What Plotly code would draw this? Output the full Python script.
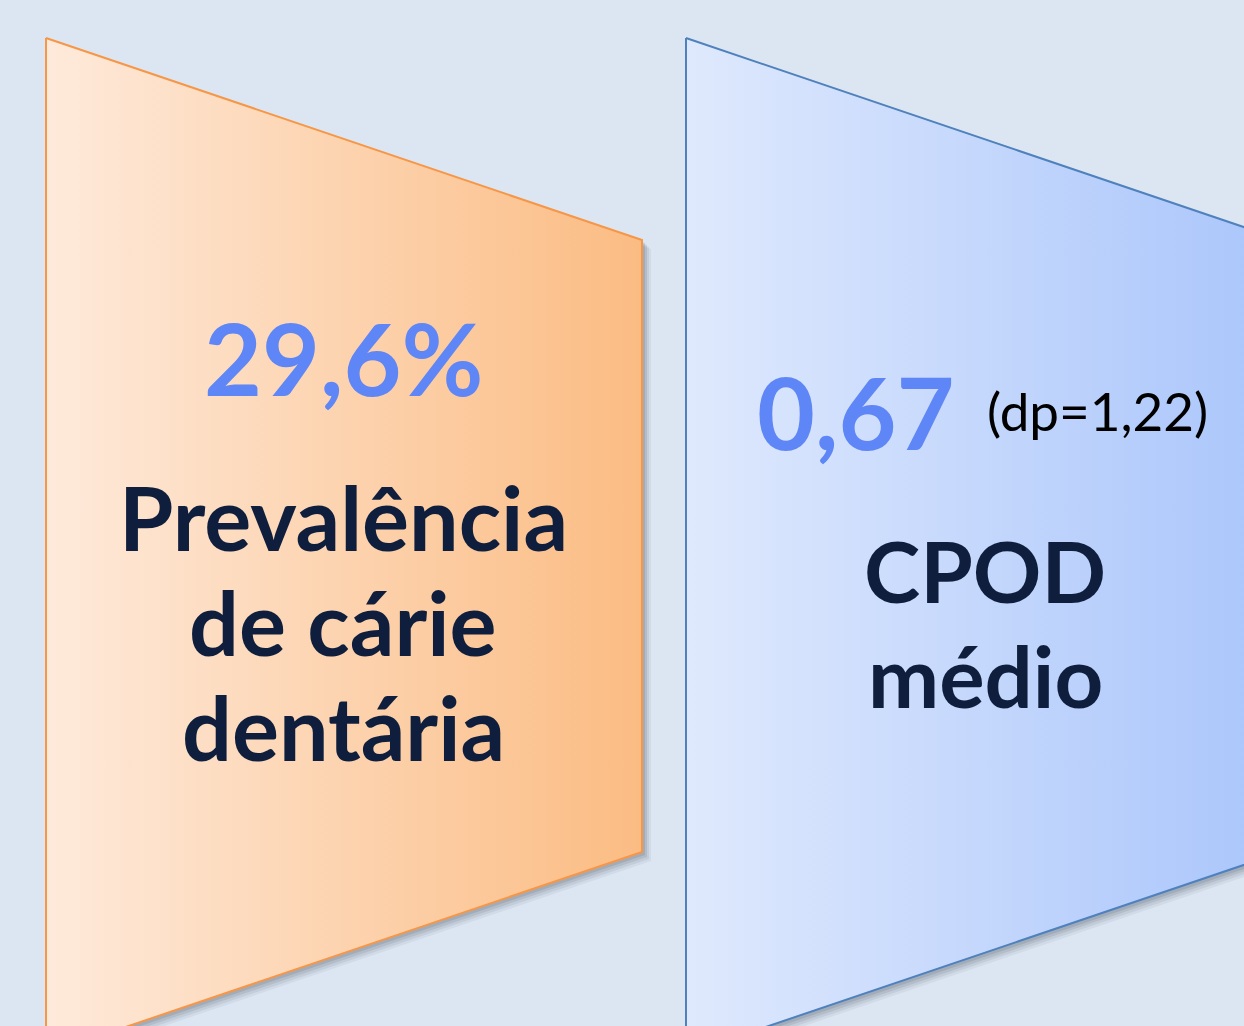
import plotly.graph_objects as go

# ---- content ----
values = ["29,6%", "0,67"]
extras = ["", "(dp=1,22)"]
labels = [["Prevalência", "de cárie", "dentária"], ["CPOD", "médio"]]

# ---- style / geometry ----
W, H = 1244, 1026
BG = "#DCE6F2"
grad = [["#FEEADB", "#FBBC83"], ["#DFE9FD", "#A9C5FB"]]
edge = ["#F79646", "#4F81BD"]
x0s = [46, 686]
PW = 596          # panel width
TOP_DROP = 202    # slant drop
RIGHT_H = 612     # right edge height

def panel(x0):
    xs = [x0, x0 + PW, x0 + PW, x0, x0]
    ys = [38, 38 + TOP_DROP, 38 + TOP_DROP + RIGHT_H, 38 + 2 * TOP_DROP + RIGHT_H, 38]
    return xs, ys

fig = go.Figure()
for i, x0 in enumerate(x0s):
    xs, ys = panel(x0)
    # soft shadow layers
    for k, op in [(9, 0.06), (7, 0.08), (5, 0.10), (3, 0.12)]:
        fig.add_trace(go.Scatter(x=[v + k for v in xs], y=[v + k for v in ys], mode="lines",
                                 fill="toself", fillcolor=f"rgba(40,50,70,{op})",
                                 line=dict(width=0), hoverinfo="skip", showlegend=False))
    fig.add_trace(go.Scatter(x=xs, y=ys, mode="lines", fill="toself",
                             fillgradient=dict(type="horizontal",
                                               colorscale=[[0, grad[i][0]], [1, grad[i][1]]]),
                             line=dict(color=edge[i], width=2),
                             hoverinfo="skip", showlegend=False))

FONT = "Lato"
NAVY = "#0E1E3C"
BLUE = "#5F86F6"

# panel 1 texts
fig.add_annotation(x=343, y=357, text=f"<b>{values[0]}</b>", showarrow=False,
                   font=dict(family=FONT, size=100, color=BLUE))
for j, t in enumerate(labels[0]):
    fig.add_annotation(x=343, y=517 + j * 105, text=f"<b>{t}</b>", showarrow=False,
                       font=dict(family=FONT, size=88, color=NAVY))

# panel 2 texts
fig.add_annotation(x=855, y=411, text=f"<b>{values[1]}</b>", showarrow=False,
                   font=dict(family=FONT, size=100, color=BLUE))
fig.add_annotation(x=1097, y=410, text=extras[1], showarrow=False,
                   font=dict(family=FONT, size=53, color="#000000"))
for j, t in enumerate(labels[1]):
    fig.add_annotation(x=985, y=570 + j * 105, text=f"<b>{t}</b>", showarrow=False,
                       font=dict(family=FONT, size=85, color=NAVY))

fig.update_layout(
    width=W, height=H, margin=dict(l=0, r=0, t=0, b=0),
    paper_bgcolor=BG, plot_bgcolor=BG,
    xaxis=dict(range=[0, W], visible=False, fixedrange=True),
    yaxis=dict(range=[H, 0], visible=False, fixedrange=True),
    showlegend=False,
)
fig.write_html("out.html", config={"displayModeBar": False},
               post_script="document.body.style.margin='0';document.body.style.overflow='hidden';")
